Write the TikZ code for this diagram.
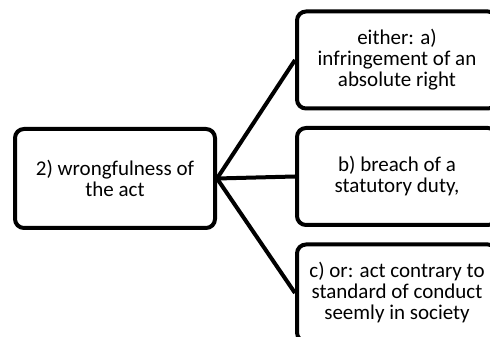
\documentclass[tikz,border=0pt]{standalone}
\usepackage{fontspec}
\setmainfont{Carlito}
\usetikzlibrary{calc}
\begin{document}
\begin{tikzpicture}[x=1pt, y=1pt,
	box/.style={draw, line width=4pt, rounded corners=9pt, fill=white, minimum width=200pt, minimum height=97pt, align=center, inner sep=1pt, font=\fontsize{21}{21}\selectfont}]
			\clip (0,0) rectangle (490,337);
			\node[box, minimum height=99pt] (act) at (115,158.5) {2) wrongfulness of\\the act};
			\node[box] (right) at (397,277) {either: a)\\infringement of an\\absolute right};
			\node[box] (duty) at (397,160.5) {b) breach of a\\statutory duty,};
			\node[box] (conduct) at (397,44) {c) or: act contrary to\\standard of conduct\\seemly in society};
			\draw[line width=4pt] (act.east)--(right.west);
			\draw[line width=4pt] (act.east)--(duty.west);
			\draw[line width=4pt] (act.east)--(conduct.west);
	\end{tikzpicture}
\end{document}
